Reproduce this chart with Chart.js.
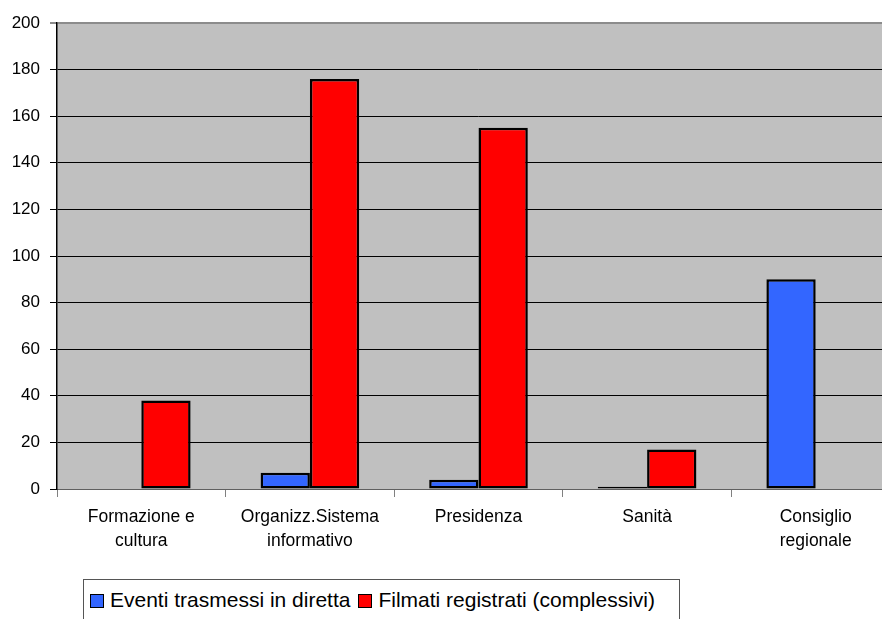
<!DOCTYPE html>
<html>
<head>
<meta charset="utf-8">
<script src="https://cdn.jsdelivr.net/npm/chart.js@4/dist/chart.umd.min.js"></script>
<style>
  html, body { margin: 0; padding: 0; background: #fff; overflow: hidden; }
  #wrap { position: absolute; left: 0; top: 0; width: 900px; height: 619px; }
  #legend {
    position: absolute; left: 83px; top: 579px; width: 597px; height: 60px;
    border: 1px solid #555; box-sizing: border-box; background: #fff;
    font-family: "Liberation Sans", Arial, sans-serif; font-size: 21px; color: #000;
    padding: 8px 0 0 6px; white-space: nowrap;
  }
  #legend span.box {
    display: inline-block; width: 12px; height: 12px; border: 1.5px solid #000;
    vertical-align: -1px; margin-right: 6px;
  }
  #legend span.item { margin-right: 8px; }
</style>
</head>
<body>
<div id="wrap"><canvas id="c" width="900" height="619"></canvas></div>
<div id="legend"></div>
<script>
/* categorie e serie */
const categories = [
  ['Formazione e', 'cultura'],
  ['Organizz.Sistema', 'informativo'],
  ['Presidenza'],
  ['Sanità'],
  ['Consiglio', 'regionale']
];
const seriesNames = ['Eventi trasmessi in diretta', 'Filmati registrati (complessivi)'];
const eventiDiretta = [0, 7, 4, 1, 90];
const filmatiRegistrati = [38, 176, 155, 17, 0];
const seriesColors = ['#3366FF', '#FF0000'];
const yTicks = [0, 20, 40, 60, 80, 100, 120, 140, 160, 180, 200];

const FONT = '"Liberation Sans", Arial, sans-serif';

// sfondo grigio dell'area del grafico
const plotBg = {
  id: 'plotBg',
  beforeDraw(chart) {
    const { ctx, chartArea: a } = chart;
    ctx.save();
    ctx.fillStyle = '#C0C0C0';
    ctx.fillRect(a.left, a.top, a.right - a.left, a.bottom - a.top);
    ctx.restore();
  }
};

new Chart(document.getElementById('c'), {
  type: 'bar',
  data: {
    labels: categories,
    datasets: [
      { label: seriesNames[0], data: eventiDiretta, backgroundColor: seriesColors[0] },
      { label: seriesNames[1], data: filmatiRegistrati, backgroundColor: seriesColors[1] }
    ]
  },
  options: {
    responsive: false,
    animation: false,
    layout: { padding: { top: 23, left: 0, right: 0, bottom: 0 } },
    plugins: { legend: { display: false }, tooltip: { enabled: false } },
    datasets: {
      bar: {
        categoryPercentage: 0.585,
        barPercentage: 1,
        borderColor: '#000',
        borderWidth: 2.5,
        borderSkipped: false
      }
    },
    scales: {
      x: {
        grid: { drawOnChartArea: false, drawTicks: true, tickLength: 8, color: '#808080', offset: true },
        border: { color: '#606060', width: 1 },
        ticks: {
          color: '#000', padding: 8, maxRotation: 0, autoSkip: false,
          font: { family: FONT, size: 17.5, lineHeight: 1.38 }
        },
        afterFit(scale) { scale.height = 130; }
      },
      y: {
        min: 0, max: 200,
        afterBuildTicks(scale) { scale.ticks = yTicks.map(v => ({ value: v })); },
        grid: {
          color: ctx => ctx.tick && ctx.tick.value === 200 ? '#8c8c8c' : '#000',
          lineWidth: ctx => ctx.tick && ctx.tick.value === 200 ? 2 : 1,
          tickLength: 7
        },
        border: { color: '#000', width: 1.5 },
        ticks: {
          color: '#000', padding: 10,
          font: { family: FONT, size: 17 }
        },
        afterFit(scale) { scale.width = 57; }
      }
    }
  },
  plugins: [plotBg]
});

// legenda HTML con riquadro
const legend = document.getElementById('legend');
seriesNames.forEach((name, i) => {
  const item = document.createElement('span');
  item.className = 'item';
  item.innerHTML = '<span class="box" style="background:' + seriesColors[i] + '"></span>' + name;
  legend.appendChild(item);
});
</script>
</body>
</html>
